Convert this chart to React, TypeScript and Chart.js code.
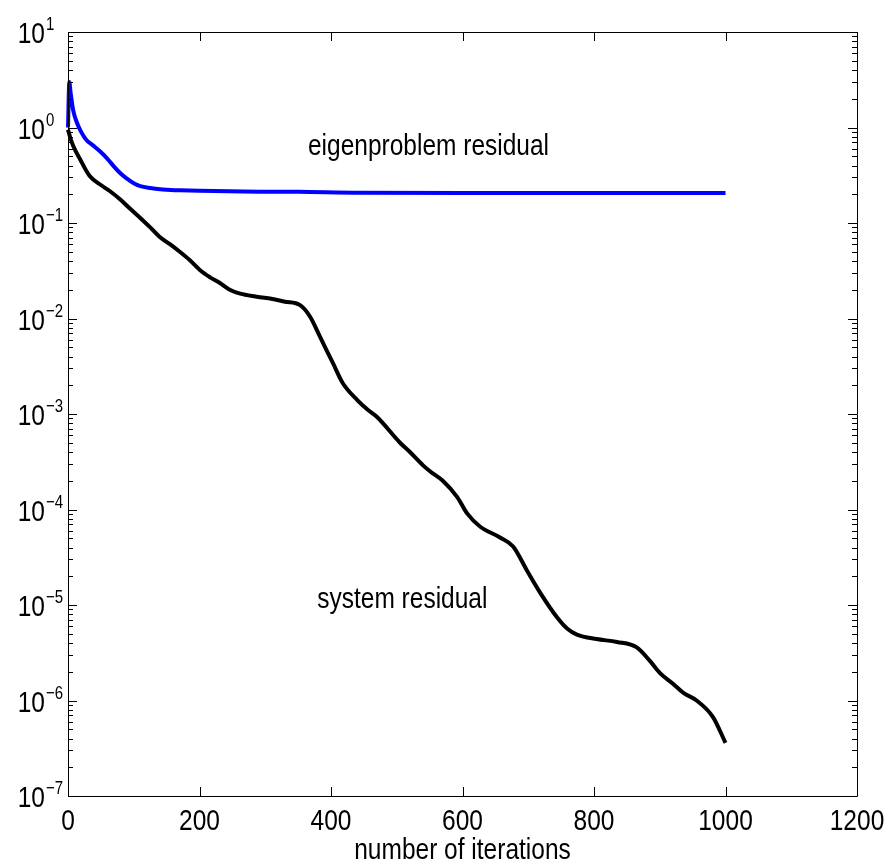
import React, { useEffect, useRef } from "react";
import { Chart, registerables } from "chart.js";

Chart.register(...registerables);

// ---- data ----
const systemIters = [
  0, 3, 8, 18, 33, 50, 64, 80, 95, 110, 125, 140, 155, 170, 185, 201, 216, 231, 246, 262,
  285, 307, 330, 353, 368, 383, 403, 418, 440, 455, 470, 505, 520, 540, 551, 570, 592, 607,
  627, 657, 677, 698, 718, 744, 760, 774, 804, 835, 865, 885, 900, 920, 936, 956, 981, 1000,
];
const systemResidual = [
  0.95, 0.8, 0.64, 0.47, 0.31, 0.25, 0.215, 0.175, 0.14, 0.113, 0.09, 0.071, 0.06, 0.05,
  0.041, 0.032, 0.027, 0.0235, 0.02, 0.0182, 0.017, 0.0162, 0.015, 0.0138, 0.0105, 0.0065,
  0.0034, 0.0021, 0.0014, 0.00112, 0.00093, 0.0005, 0.0004, 0.00029, 2.5e-4, 2.0e-4,
  1.35e-4, 9.1e-5, 6.6e-5, 5.1e-5, 4.1e-5, 2.3e-5, 1.35e-5, 7.4e-6, 5.6e-6, 4.9e-6, 4.4e-6,
  4.1e-6, 3.6e-6, 2.6e-6, 1.95e-6, 1.5e-6, 1.2e-6, 1.0e-6, 6.7e-7, 3.6e-7,
];
const eigenIters = [
  0, 2, 4, 8, 13, 20, 28, 38, 49, 60, 70, 80, 90, 100, 110, 125, 140, 170, 200, 290, 350,
  444, 600, 800, 1000,
];
const eigenResidual = [
  1.0, 3.0, 2.3, 1.5, 1.15, 0.9, 0.74, 0.65, 0.56, 0.47, 0.39, 0.33, 0.29, 0.26, 0.243,
  0.232, 0.225, 0.22, 0.217, 0.213, 0.212, 0.207, 0.206, 0.206, 0.206,
];
const xTickValues = [0, 200, 400, 600, 800, 1000, 1200];
const yDecadeExponents = [-7, -6, -5, -4, -3, -2, -1, 0, 1];
const xAxisTitle = "number of iterations";
const annotationTexts = ["eigenproblem residual", "system residual"];
const annotationX = [365, 379];
const annotationY = [0.515, 9.3e-6];

const FONT_FAMILY = '"Liberation Sans", Arial, Helvetica, sans-serif';
const STRETCH = 1.24;

function drawText(
  ctx: CanvasRenderingContext2D,
  text: string,
  x: number,
  y: number,
  size: number,
  align: CanvasTextAlign
) {
  ctx.save();
  ctx.translate(x, y);
  ctx.scale(1, STRETCH);
  ctx.font = `${size}px ${FONT_FAMILY}`;
  ctx.textAlign = align;
  ctx.textBaseline = "alphabetic";
  ctx.fillStyle = "#000";
  ctx.fillText(text, 0, 0);
  ctx.restore();
}

const framePlugin = {
  id: "matlabFrame",
  afterDatasetsDraw(chart: any) {
    const ctx: CanvasRenderingContext2D = chart.ctx;
    const xs = chart.scales.x;
    const ys = chart.scales.y;
    const { left, right, top, bottom } = chart.chartArea;
    ctx.save();
    ctx.strokeStyle = "#000";
    ctx.lineWidth = 1;
    ctx.beginPath();
    ctx.rect(Math.round(left) + 0.5, Math.round(top) + 0.5, Math.round(right - left), Math.round(bottom - top));
    ctx.stroke();

    // x ticks (inward, bottom and top)
    ctx.beginPath();
    for (const v of xTickValues) {
      const px = Math.round(xs.getPixelForValue(v)) + 0.5;
      ctx.moveTo(px, bottom);
      ctx.lineTo(px, bottom - 9);
      ctx.moveTo(px, top);
      ctx.lineTo(px, top + 9);
    }
    // y ticks (log, inward, left and right)
    for (const e of yDecadeExponents) {
      const py = Math.round(ys.getPixelForValue(Math.pow(10, e))) + 0.5;
      ctx.moveTo(left, py);
      ctx.lineTo(left + 9, py);
      ctx.moveTo(right, py);
      ctx.lineTo(right - 9, py);
      if (e < 1) {
        for (let k = 2; k <= 9; k++) {
          const pm = Math.round(ys.getPixelForValue(k * Math.pow(10, e))) + 0.5;
          ctx.moveTo(left, pm);
          ctx.lineTo(left + 5, pm);
          ctx.moveTo(right, pm);
          ctx.lineTo(right - 5, pm);
        }
      }
    }
    ctx.stroke();
    ctx.restore();

    // x tick labels
    for (const v of xTickValues) {
      const px = xs.getPixelForValue(v);
      drawText(ctx, String(v), px, bottom + 34, 24.5, "center");
    }
    // y tick labels 10^e
    for (const e of yDecadeExponents) {
      const py = ys.getPixelForValue(Math.pow(10, e));
      drawText(ctx, "10", left - 23, py + 11, 24.5, "right");
      const exp = e < 0 ? "\u2212" + String(-e) : String(e);
      drawText(ctx, exp, left - 22, py - 2, 15, "left");
    }
    // axis title
    drawText(ctx, xAxisTitle, (left + right) / 2, bottom + 63, 24.5, "center");
    // annotations
    for (let i = 0; i < annotationTexts.length; i++) {
      drawText(
        ctx,
        annotationTexts[i],
        xs.getPixelForValue(annotationX[i]),
        ys.getPixelForValue(annotationY[i]),
        24.5,
        "left"
      );
    }
  },
};

export default function App() {
  const canvasRef = useRef<HTMLCanvasElement | null>(null);

  useEffect(() => {
    const canvas = canvasRef.current;
    if (!canvas) return;
    const chart = new Chart(canvas, {
      type: "line",
      data: {
        datasets: [
          {
            label: "system residual",
            data: systemIters.map((x, i) => ({ x, y: systemResidual[i] })),
            borderColor: "#000000",
            borderWidth: 4,
            pointRadius: 0,
            cubicInterpolationMode: "monotone",
            fill: false,
            clip: false as any,
          },
          {
            label: "eigenproblem residual",
            data: eigenIters.map((x, i) => ({ x, y: eigenResidual[i] })),
            borderColor: "#0000ff",
            borderWidth: 4,
            pointRadius: 0,
            cubicInterpolationMode: "monotone",
            fill: false,
            clip: false as any,
          },
        ],
      },
      options: {
        animation: false,
        responsive: false,
        maintainAspectRatio: false,
        devicePixelRatio: 1,
        layout: { padding: { left: 68, right: 33, top: 32, bottom: 72 } },
        plugins: {
          legend: { display: false },
          tooltip: { enabled: false },
        },
        events: [],
        scales: {
          x: {
            type: "linear",
            display: false,
            min: 0,
            max: 1200,
            ticks: { stepSize: 200 },
          },
          y: {
            type: "logarithmic",
            display: false,
            min: 1e-7,
            max: 10,
          },
        },
      },
      plugins: [framePlugin],
    });
    return () => chart.destroy();
  }, []);

  return (
    <canvas
      ref={canvasRef}
      width={890}
      height={868}
      style={{ position: "absolute", left: 0, top: 0, width: 890, height: 868, background: "#fff" }}
    />
  );
}
